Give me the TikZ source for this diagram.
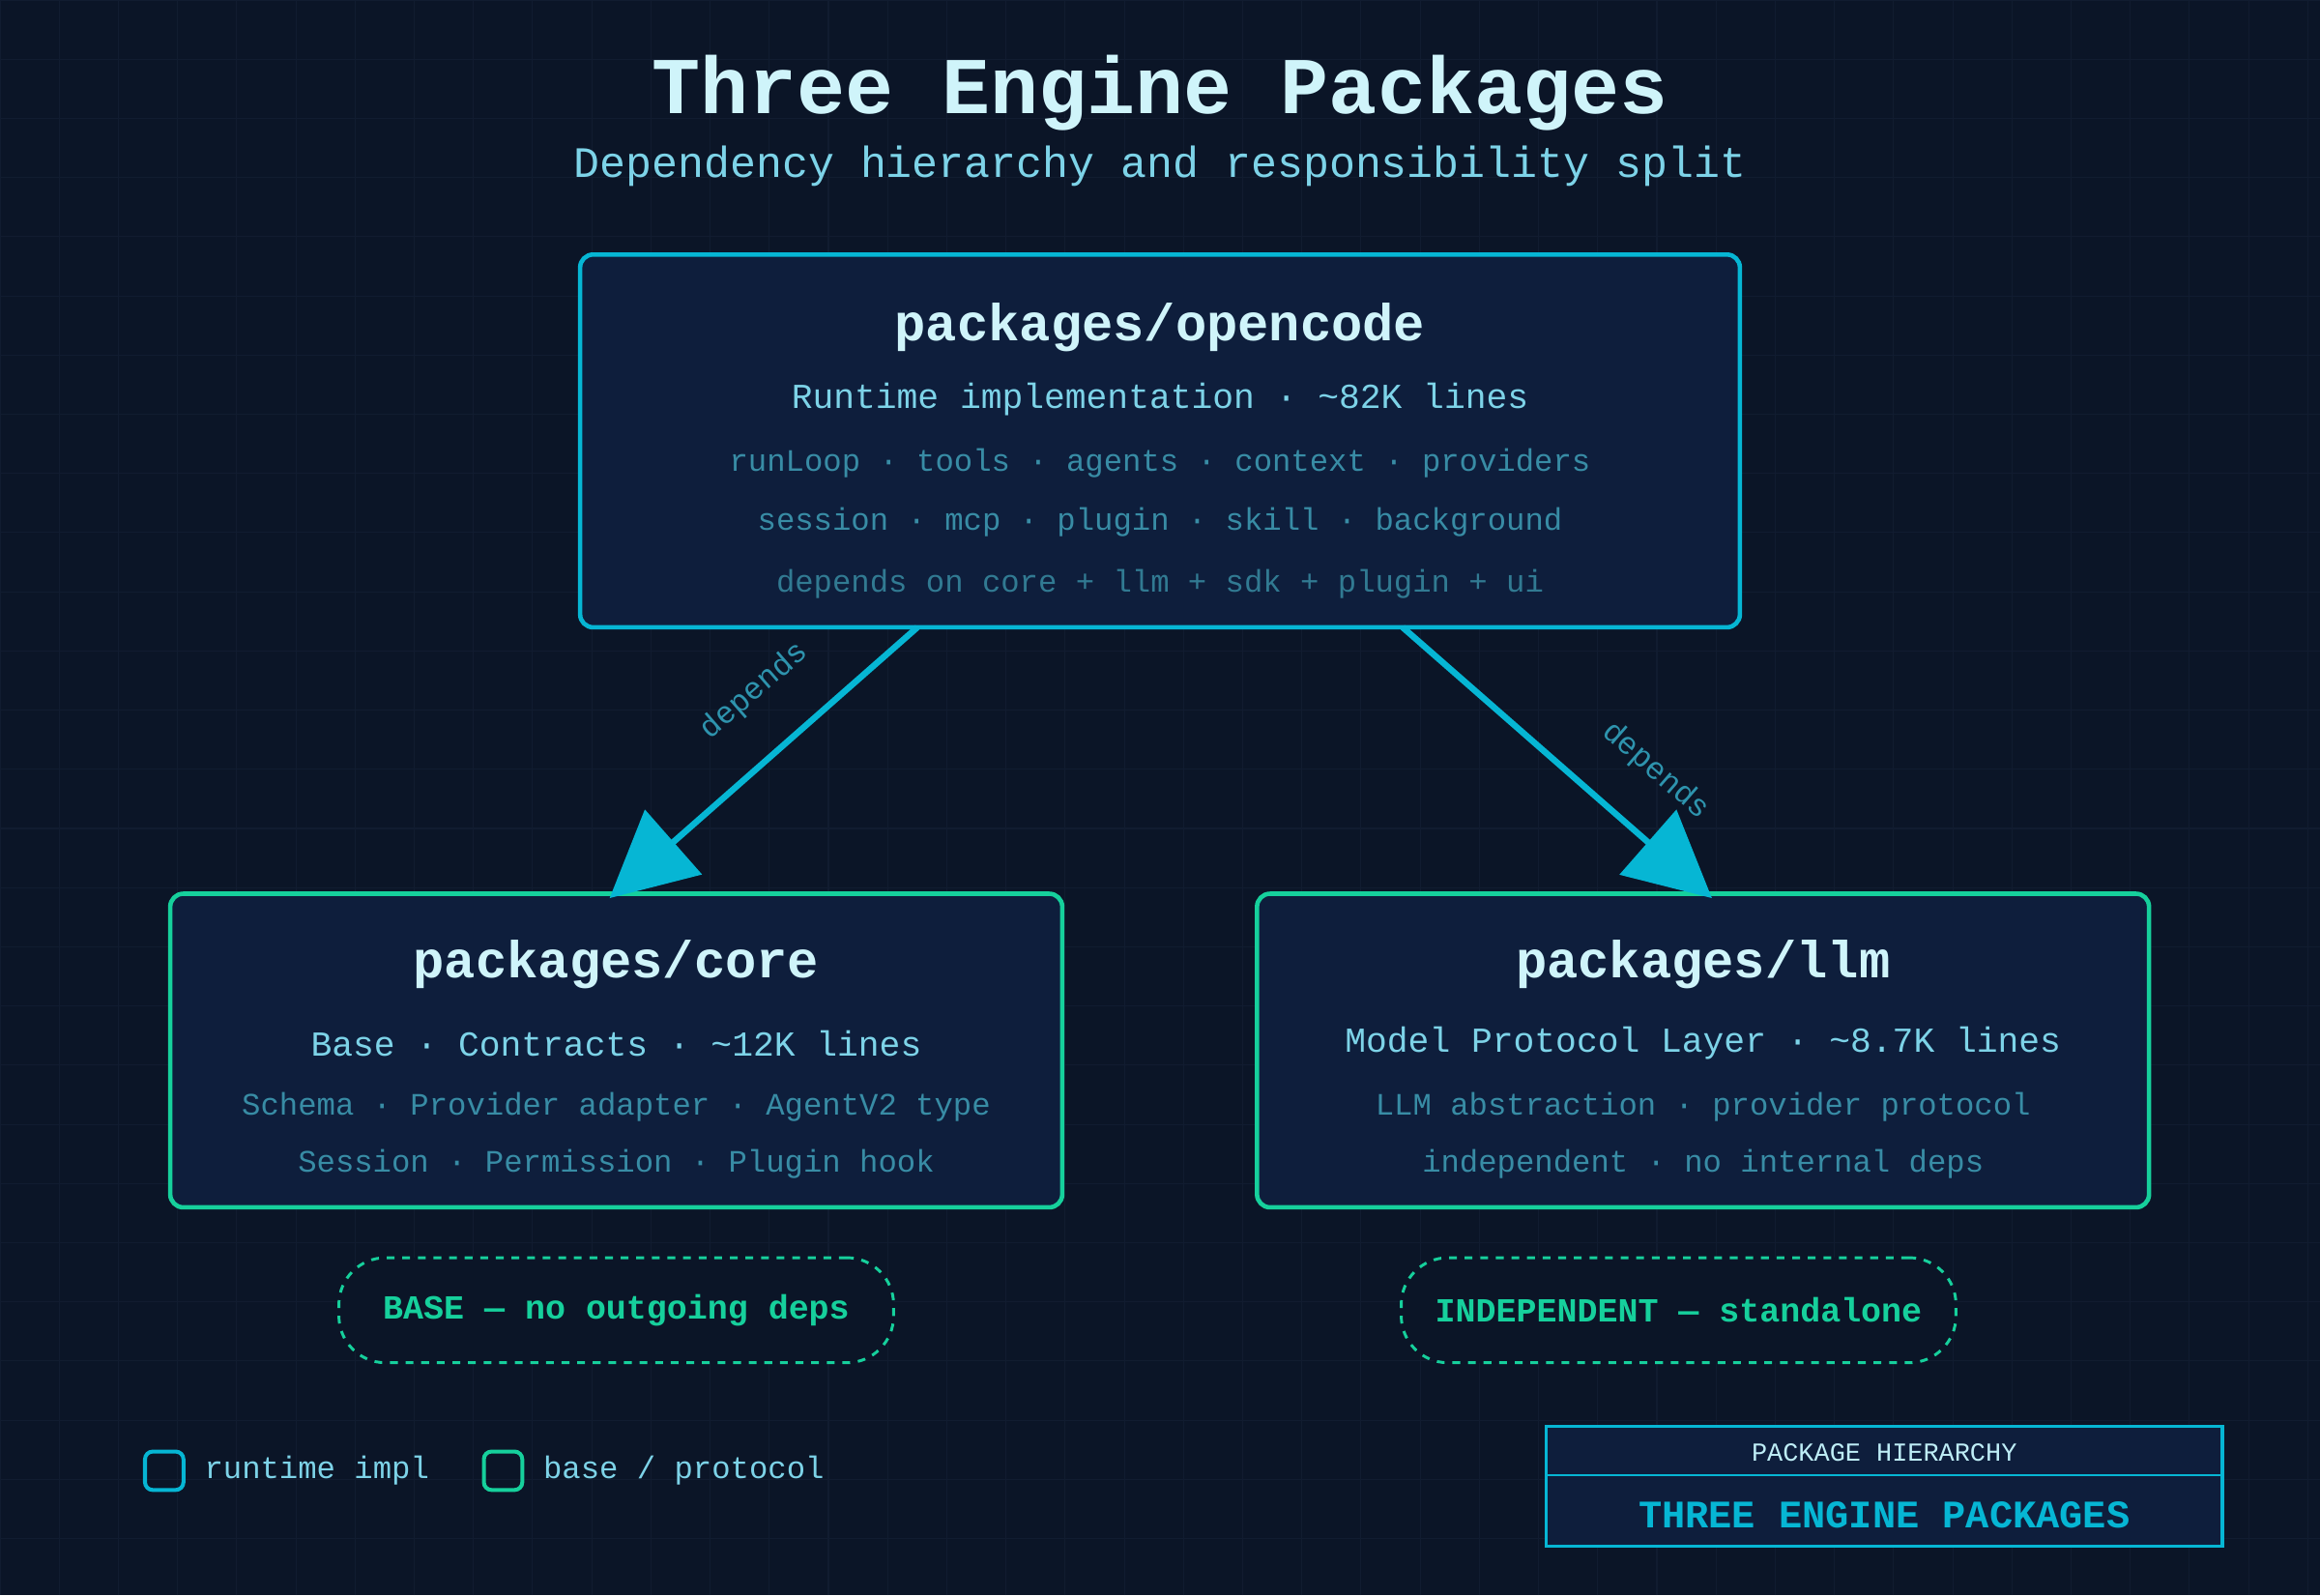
\documentclass[tikz,border=0pt]{standalone}
\usepackage{fontspec}
\setmainfont{Liberation Mono}
\usetikzlibrary{arrows.meta}
\definecolor{bg}{RGB}{11,21,39}
\definecolor{boxfill}{RGB}{14,30,60}
\definecolor{cyanline}{RGB}{6,182,212}
\definecolor{greenline}{RGB}{22,208,156}
\definecolor{titletext}{RGB}{207,244,250}
\definecolor{subtext}{RGB}{125,211,232}
\definecolor{dimtext}{RGB}{56,140,165}
\definecolor{gridline}{RGB}{17,28,48}
\tikzset{
  box/.style={draw, line width=1.7pt, fill=boxfill, rounded corners=5pt},
  pill/.style={draw=greenline, line width=1.1pt, dashed, rounded corners=18pt, fill=bg},
  head/.style={text=titletext, font=\bfseries\fontsize{20}{24}\selectfont},
  info/.style={text=subtext, font=\fontsize{13.5}{16}\selectfont},
  detail/.style={text=dimtext, font=\fontsize{12}{14}\selectfont},
  dep/.style={cyanline, line width=2.4pt, -{Triangle[length=1.15cm, width=1.15cm]}},
  deplabel/.style={text=dimtext!80!cyanline, font=\fontsize{12}{14}\selectfont}
}
\begin{document}
\begin{tikzpicture}[x=0.02cm, y=-0.02cm]
    \fill[bg] (0,0) rectangle (1568,1078);
    \useasboundingbox (0,0) rectangle (1568,1078);
    \draw[gridline, line width=0.4pt] (0,0) grid[step=0.8cm] (1568,1078);

    % title
    \node[text=titletext, font=\bfseries\fontsize{31}{36}\selectfont] (title) at (784,63) {Three Engine Packages};
    \node[text=subtext, font=\fontsize{16.7}{20}\selectfont] (subtitle) at (784,112) {Dependency hierarchy and responsibility split};

    % packages
    \node[box, draw=cyanline, minimum width=15.68cm, minimum height=5.04cm] (opencode) at (784,298) {};
    \node[head] at (784,221) {packages/opencode};
    \node[info] at (784,270) {Runtime implementation · \textasciitilde 82K lines};
    \node[detail] at (784,313) {runLoop · tools · agents · context · providers};
    \node[detail] at (784,353) {session · mcp · plugin · skill · background};
    \node[detail, text=dimtext!85!bg] at (784,395) {depends on core + llm + sdk + plugin + ui};

    \node[box, draw=greenline, minimum width=12.06cm, minimum height=4.24cm] (core) at (416.5,710) {};
    \node[head] at (416.5,652) {packages/core};
    \node[info] at (416.5,705) {Base · Contracts · \textasciitilde 12K lines};
    \node[detail] at (416.5,748) {Schema · Provider adapter · AgentV2 type};
    \node[detail] at (416.5,787) {Session · Permission · Plugin hook};

    \node[box, draw=greenline, minimum width=12.06cm, minimum height=4.24cm] (llm) at (1151,710) {};
    \node[head] at (1151,652) {packages/llm};
    \node[info] at (1151,705) {Model Protocol Layer · \textasciitilde 8.7K lines};
    \node[detail] at (1151,748) {LLM abstraction · provider protocol};
    \node[detail] at (1151,787) {independent · no internal deps};

    % dependencies
    \coordinate (opl) at (620,424);
    \coordinate (opr) at (948,424);
    \coordinate (coretop) at (412,607);
    \coordinate (llmtop) at (1157,607);
    \draw[dep] (opl) -- (coretop);
    \draw[dep] (opr) -- (llmtop);
    \node[deplabel, rotate=41] at (510,467) {depends};
    \node[deplabel, rotate=-41] at (1119,521) {depends};

    % notes
    \node[pill, minimum width=7.5cm, minimum height=1.42cm, text=greenline, font=\bfseries\fontsize{13}{15}\selectfont] (basenote) at (416.5,885.5) {BASE — no outgoing deps};
    \node[pill, minimum width=7.5cm, minimum height=1.42cm, text=greenline, font=\bfseries\fontsize{13}{15}\selectfont] (llmnote) at (1134.5,885.5) {INDEPENDENT — standalone};

    % legend
    \draw[cyanline, line width=1.5pt, rounded corners=3pt] (98,981) rectangle (124,1007);
    \node[info, anchor=west, font=\fontsize{12}{14}\selectfont] (legrt) at (132,994) {runtime impl};
    \draw[greenline, line width=1.5pt, rounded corners=3pt] (327,981) rectangle (353,1007);
    \node[info, anchor=west, font=\fontsize{12}{14}\selectfont] (legbase) at (361,994) {base / protocol};

    % stamp
    \draw[cyanline, line width=1.3pt, fill=boxfill] (1045,964) rectangle (1502,1045);
    \draw[cyanline, line width=1pt] (1045,997) -- (1502,997);
    \node[text=titletext!80!subtext, font=\fontsize{10}{12}\selectfont] (stamptop) at (1273.5,982) {PACKAGE HIERARCHY};
    \node[text=cyanline, font=\bfseries\fontsize{15}{18}\selectfont] (stampname) at (1273.5,1024) {THREE ENGINE PACKAGES};
\end{tikzpicture}
\end{document}
